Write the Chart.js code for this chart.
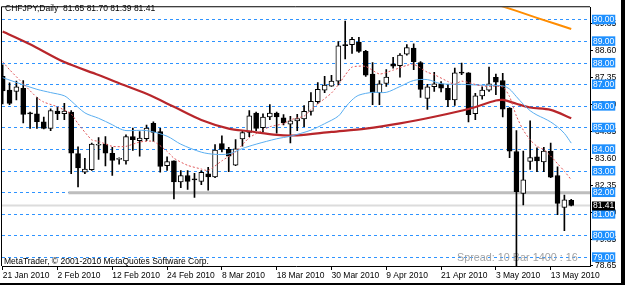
<!DOCTYPE html>
<html>
<head>
<meta charset="utf-8">
<script src="https://cdn.jsdelivr.net/npm/chart.js@4/dist/chart.umd.min.js"></script>
<style>
  html, body { margin: 0; padding: 0; background: #fff; }
</style>
</head>
<body>
<canvas id="chart" width="625" height="285"></canvas>
<script>
/* CHFJPY daily candles with three moving averages, MetaTrader look. */

// date ticks, one every 8 bars
const dateLabels = ['21 Jan 2010', '2 Feb 2010', '12 Feb 2010', '24 Feb 2010', '8 Mar 2010',
  '18 Mar 2010', '30 Mar 2010', '9 Apr 2010', '21 Apr 2010', '3 May 2010', '13 May 2010'];
const barsPerLabel = 8;

const opens = [
  87.39, 86.75, 86.69, 86.84, 85.68, 85.66, 85.29, 84.98, 85.78, 85.66,
  85.74, 83.81, 82.95, 83.07, 84.20, 84.26, 83.83, 83.55, 83.48, 84.60,
  84.41, 84.50, 85.21, 84.83, 83.25, 83.48, 82.50, 82.80, 82.62, 82.53,
  82.88, 82.73, 84.28, 84.01, 83.28, 84.49, 84.79, 85.69, 85.01, 85.51,
  85.69, 85.47, 85.18, 85.33, 85.42, 85.77, 86.22, 86.75, 86.94, 87.17,
  88.85, 88.86, 88.98, 88.55, 87.50, 86.64, 87.06, 87.97, 87.89, 88.42,
  88.70, 88.03, 86.37, 86.91, 87.05, 86.84, 86.30, 87.58, 87.55, 85.66,
  86.49, 86.75, 87.35, 87.20, 85.92, 83.91, 81.97, 83.45, 83.67, 83.43,
  83.93, 82.80, 81.32, 81.65];
const highs = [
  87.92, 87.09, 87.17, 87.20, 85.74, 86.42, 85.50, 85.89, 85.96, 86.14,
  85.81, 84.13, 83.60, 84.30, 84.56, 84.60, 84.10, 83.62, 84.68, 85.00,
  84.83, 85.14, 85.29, 84.98, 83.67, 83.48, 83.03, 83.03, 82.90, 83.03,
  83.18, 84.23, 84.64, 84.10, 84.46, 84.85, 85.81, 85.74, 85.66, 86.08,
  85.74, 85.62, 85.54, 85.63, 86.04, 86.64, 87.10, 87.39, 87.44, 89.00,
  89.95, 89.20, 89.20, 88.60, 88.03, 87.20, 87.70, 88.27, 88.45, 88.86,
  88.90, 88.07, 87.02, 87.58, 87.15, 87.02, 87.77, 88.00, 87.57, 86.60,
  86.90, 87.82, 87.50, 87.53, 85.95, 84.88, 83.93, 85.33, 84.08, 84.11,
  84.30, 83.20, 81.89, 81.70];
const lows = [
  86.11, 86.08, 86.30, 85.24, 84.98, 84.98, 84.96, 84.88, 85.39, 85.39,
  82.88, 82.27, 82.88, 83.03, 83.55, 83.24, 82.80, 83.33, 83.33, 83.96,
  83.70, 84.41, 84.38, 82.95, 83.03, 81.72, 82.24, 82.15, 81.78, 82.38,
  82.12, 82.70, 83.89, 82.98, 83.25, 84.16, 84.60, 84.88, 84.83, 85.39,
  84.76, 85.14, 84.31, 84.88, 85.06, 85.59, 86.14, 86.64, 86.93, 86.99,
  88.20, 88.45, 88.50, 87.39, 86.08, 86.08, 86.93, 87.77, 87.35, 88.37,
  87.70, 86.42, 85.86, 86.69, 86.67, 85.99, 86.04, 87.47, 85.28, 85.39,
  86.33, 86.69, 86.54, 85.51, 83.63, 76.50, 81.44, 83.08, 82.98, 82.98,
  82.70, 80.99, 80.24, 81.39];
const closes = [
  86.72, 86.14, 86.90, 85.63, 85.65, 85.29, 84.98, 85.81, 85.66, 85.78,
  83.83, 83.15, 83.10, 84.26, 84.22, 83.83, 83.50, 83.57, 84.60, 84.46,
  84.53, 85.00, 84.79, 83.22, 83.45, 82.50, 82.80, 82.53, 82.60, 82.95,
  82.73, 83.98, 84.01, 83.70, 84.04, 84.79, 85.56, 84.98, 85.51, 85.69,
  85.51, 85.24, 85.33, 85.44, 85.77, 86.23, 86.79, 86.99, 87.17, 88.80,
  88.81, 89.10, 88.55, 87.44, 86.64, 87.05, 87.36, 87.86, 88.37, 88.72,
  88.07, 86.79, 86.91, 87.05, 86.84, 86.30, 87.55, 87.54, 85.62, 86.49,
  86.75, 87.05, 87.12, 85.87, 83.93, 82.05, 82.60, 83.63, 83.48, 83.93,
  82.72, 81.51, 81.67, 81.41];

// moving averages, read at the bar indexes listed beside them
const slowMaAt = [0, 4, 9, 14, 17, 21, 25, 29, 33, 36, 40, 43, 48, 53, 58, 63, 68, 72, 73, 75, 77, 80, 83];
const slowMa = [89.47, 88.88, 88.05, 87.45, 87.07, 86.58, 85.98, 85.37, 84.97, 84.85, 84.68, 84.66,
  84.82, 84.97, 85.21, 85.52, 85.88, 86.27, 86.30, 86.12, 85.95, 85.84, 85.45];

const midMaAt = [0, 3, 5, 7, 9, 10, 12, 14, 16, 17, 18, 21, 24, 26, 29, 31, 33, 35, 37, 40, 42, 45,
  47, 49, 50, 51, 52, 54, 56, 58, 60, 62, 64, 67, 70, 73, 74, 75, 76, 77, 78, 79, 80, 81, 82, 83];
const midMa = [87.33, 87.00, 86.79, 86.64, 86.49, 86.25, 85.70, 85.45, 85.15, 84.98, 84.88, 84.88,
  84.62, 84.25, 83.88, 83.78, 83.80, 84.05, 84.25, 84.50, 84.62, 84.90, 85.20, 85.55, 85.95, 86.30,
  86.52, 86.65, 86.65, 86.92, 87.20, 87.24, 87.05, 87.02, 86.98, 86.95, 86.80, 86.45, 86.10, 85.80,
  85.60, 85.45, 85.28, 85.05, 84.75, 84.30];

const fastMaAt = [0, 1, 3, 5, 6, 8, 10, 11, 13, 14, 16, 18, 20, 22, 24, 25, 27, 29, 30, 32, 34, 36,
  38, 39, 41, 42, 44, 45, 46, 48, 49, 50, 51, 53, 55, 57, 59, 60, 62, 63, 65, 66, 67, 70, 73, 74,
  75, 76, 77, 78, 79, 80, 81, 82, 83];
const fastMa = [88.07, 87.70, 87.05, 86.41, 86.20, 85.98, 85.65, 85.20, 84.45, 84.38, 84.15, 84.15,
  84.35, 84.38, 83.92, 83.60, 83.27, 83.10, 83.03, 83.48, 83.90, 84.55, 84.90, 85.06, 85.20, 85.38,
  85.55, 85.85, 86.11, 86.62, 87.00, 87.45, 87.82, 87.85, 87.50, 87.68, 87.90, 87.95, 87.58, 87.47,
  87.15, 87.02, 87.17, 86.94, 86.90, 86.45, 85.55, 84.90, 84.45, 84.15, 84.00, 83.70, 83.35, 83.00, 82.60];

const longMaAt = [72, 75, 78, 81, 83];
const longMa = [90.73, 90.42, 90.10, 89.79, 89.58];

// right-hand price scale
const priceLevels = [79, 80, 81, 82, 83, 84, 85, 86, 87, 88, 89, 90];
const scaleMarks = [89.85, 88.60, 87.35, 86.10, 84.85, 83.60, 82.35, 81.10, 79.85, 78.65];
const lastPrice = 81.41;
const levelLine = 82.00;
const levelFrom = 9.6;

const FONT = '"Liberation Sans", Arial, sans-serif';
const X_MIN = -0.1;
const X_MAX = 85.74;

const points = (at, vals) => at.map((x, k) => ({ x, y: vals[k] }));
const bodies = opens.map((o, i) => ({ x: i, y: [o, closes[i]] }));
const wicks = lows.map((l, i) => ({ x: i, y: [l, highs[i]] }));
const bodyColors = opens.map((o, i) => (closes[i] >= o ? '#ffffff' : '#000000'));

const overlay = {
  id: 'overlay',
  beforeDraw(chart) {
    const { ctx, chartArea: a, scales: { y } } = chart;
    ctx.save();
    ctx.font = '8.5px ' + FONT;
    ctx.textBaseline = 'middle';
    ctx.fillStyle = '#000';
    ctx.strokeStyle = '#000';
    ctx.lineWidth = 1;
    scaleMarks.forEach((v) => {
      const py = Math.round(y.getPixelForValue(v)) + 0.5;
      ctx.beginPath();
      ctx.moveTo(a.right, py);
      ctx.lineTo(a.right + 3, py);
      ctx.stroke();
      ctx.fillText(v.toFixed(2), a.right + 5, py);
    });
    ctx.restore();
  },
  beforeDatasetsDraw(chart) {
    const { ctx } = chart;
    ctx.save();
    ctx.textBaseline = 'middle';
    ctx.font = '8.5px ' + FONT;
    ctx.fillStyle = '#000';
    ctx.fillText('MetaTrader, \u00a9 2001-2010 MetaQuotes Software Corp.', 4, 262);
    ctx.font = '10.8px ' + FONT;
    ctx.fillStyle = '#a4a4a4';
    ctx.fillText('Spread: 10 Bar 1400 : 16', 457, 258);
    ctx.restore();
  },
  afterDraw(chart) {
    const { ctx, chartArea: a, scales: { y } } = chart;
    ctx.save();
    // frame
    ctx.strokeStyle = '#000';
    ctx.lineWidth = 1;
    ctx.beginPath();
    ctx.moveTo(a.left - 0.5, a.bottom);
    ctx.lineTo(a.left - 0.5, a.top - 0.5);
    ctx.lineTo(a.right, a.top - 0.5);
    ctx.stroke();
    ctx.fillStyle = '#000';
    ctx.fillRect(621, 0, 4, 285);
    ctx.fillRect(0, 283, 625, 2);
    // title
    ctx.font = '8.5px ' + FONT;
    ctx.textBaseline = 'middle';
    ctx.fillText('CHFJPY,Daily', 5, 8.5);
    ctx.fillText('81.65 81.70 81.39 81.41', 63, 8.5);
    // last price box
    const py = y.getPixelForValue(lastPrice);
    ctx.fillRect(a.right + 2, Math.round(py) - 4.5, 23, 9);
    ctx.fillStyle = '#fff';
    ctx.fillText(lastPrice.toFixed(2), a.right + 3, py + 0.5);
    ctx.restore();
  },
};

new Chart(document.getElementById('chart'), {
  type: 'bar',
  data: {
    datasets: [
      { type: 'line', label: 'level', data: [{ x: levelFrom, y: levelLine }, { x: X_MAX + 1, y: levelLine }],
        borderColor: '#bdbdbd', borderWidth: 3, pointRadius: 0, order: 9 },
      { type: 'line', label: 'bid', data: [{ x: X_MIN - 1, y: lastPrice }, { x: X_MAX + 1, y: lastPrice }],
        borderColor: '#dcdcdc', borderWidth: 2, pointRadius: 0, order: 8 },
      { label: 'wicks', data: wicks, backgroundColor: '#000', grouped: false,
        barThickness: 1, maxBarThickness: 1, order: 6 },
      { label: 'bodies', data: bodies, backgroundColor: bodyColors, borderColor: '#000', borderWidth: 1,
        borderSkipped: false, grouped: false, barThickness: 5, maxBarThickness: 5, minBarLength: 1, order: 5 },
      { type: 'line', label: 'slow', data: points(slowMaAt, slowMa), borderColor: '#b8262b',
        borderWidth: 2.2, pointRadius: 0, tension: 0.3, order: 3 },
      { type: 'line', label: 'mid', data: points(midMaAt, midMa), borderColor: '#5aaef0',
        borderWidth: 1, pointRadius: 0, tension: 0.3, order: 2 },
      { type: 'line', label: 'fast', data: points(fastMaAt, fastMa), borderColor: '#e0575a',
        borderWidth: 1, borderDash: [2, 2], pointRadius: 0, tension: 0.2, order: 1 },
      { type: 'line', label: 'long', data: points(longMaAt, longMa), borderColor: '#ff8c00',
        borderWidth: 2, pointRadius: 0, order: 0 },
    ],
  },
  options: {
    responsive: false,
    animation: false,
    events: [],
    layout: { padding: { left: 2, top: 1, right: 0, bottom: 0 } },
    plugins: { legend: { display: false }, tooltip: { enabled: false } },
    scales: {
      x: {
        type: 'linear', min: X_MIN, max: X_MAX, offset: false,
        afterBuildTicks: (axis) => { axis.ticks = dateLabels.map((_, k) => ({ value: k * barsPerLabel })); },
        afterFit: (axis) => { axis.height = 19; },
        grid: { display: true, drawOnChartArea: false, drawTicks: true, tickLength: 4, color: '#000', offset: false },
        border: { display: true, color: '#000' },
        ticks: {
          align: 'start', autoSkip: false, maxRotation: 0, padding: 1, color: '#000',
          font: { family: FONT, size: 8.5 },
          callback: (v) => dateLabels[Math.round(v / barsPerLabel)] || '',
        },
      },
      y: {
        type: 'linear', position: 'right', min: 78.61, max: 90.59,
        afterBuildTicks: (axis) => { axis.ticks = priceLevels.map((v) => ({ value: v })); },
        afterFit: (axis) => { axis.width = 35; },
        grid: { color: '#2e93ff', drawTicks: false },
        border: { display: true, color: '#000', dash: [3, 3] },
        ticks: {
          color: '#fff', padding: 3, crossAlign: 'near',
          font: { family: FONT, size: 8.5, lineHeight: 1 },
          showLabelBackdrop: true, backdropColor: '#1e90ff',
          backdropPadding: { top: 1, bottom: 0, left: 1, right: 1 },
          callback: (v) => v.toFixed(2),
        },
      },
    },
  },
  plugins: [overlay],
});
</script>
</body>
</html>
